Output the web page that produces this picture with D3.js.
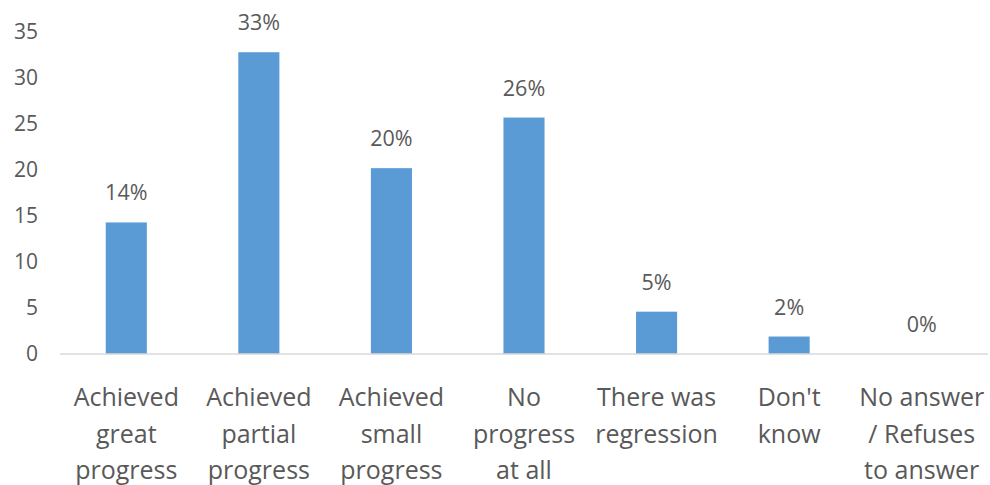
<!DOCTYPE html>
<html>
<head>
<meta charset="utf-8">
<script src="https://cdn.jsdelivr.net/npm/d3@7"></script>
<style>
  body { margin: 0; background: #fff; }
  text { font-family: "Open Sans", sans-serif; fill: #595959; }
</style>
</head>
<body>
<div id="chart"></div>
<script>
// Chart data
const categories = [
  "Achieved\ngreat\nprogress",
  "Achieved\npartial\nprogress",
  "Achieved\nsmall\nprogress",
  "No\nprogress\nat all",
  "There was\nregression",
  "Don't\nknow",
  "No answer\n/ Refuses\nto answer"
];
const values = [14.3, 32.8, 20.2, 25.7, 4.6, 1.9, 0];
const valueLabels = ["14%", "33%", "20%", "26%", "5%", "2%", "0%"];
const yTicks = [0, 5, 10, 15, 20, 25, 30, 35];

const width = 990;
const height = 485;
const margin = { top: 32, right: 2, bottom: 131, left: 60 };

const svg = d3.select("#chart").append("svg")
  .attr("width", width)
  .attr("height", height);

const x = d3.scaleBand()
  .domain(categories)
  .range([margin.left, width - margin.right])
  .paddingInner(0.69)
  .paddingOuter(0.345);

const y = d3.scaleLinear()
  .domain([0, 35])
  .range([height - margin.bottom, margin.top]);

// y axis labels only
const yAxis = d3.axisLeft(y).tickValues(yTicks).tickSize(0).tickPadding(22);
svg.append("g")
  .attr("transform", "translate(" + margin.left + ",0)")
  .call(yAxis)
  .call(g => g.select(".domain").remove())
  .selectAll("text")
  .attr("font-size", 21)
  .attr("font-family", "Open Sans, sans-serif")
  .style("fill", "#595959");

// bars
svg.selectAll(".bar")
  .data(values)
  .enter()
  .append("rect")
  .attr("class", "bar")
  .attr("x", (d, i) => x(categories[i]))
  .attr("y", d => y(d))
  .attr("width", x.bandwidth())
  .attr("height", d => y(0) - y(d))
  .attr("fill", "#5b9bd5");

// baseline
svg.append("line")
  .attr("x1", margin.left)
  .attr("x2", width - margin.right)
  .attr("y1", y(0))
  .attr("y2", y(0))
  .attr("stroke", "#d9d9d9")
  .attr("stroke-width", 1.5);

// value labels
svg.selectAll(".vlabel")
  .data(values)
  .enter()
  .append("text")
  .attr("class", "vlabel")
  .attr("x", (d, i) => x(categories[i]) + x.bandwidth() / 2)
  .attr("y", d => y(d) - 22)
  .attr("text-anchor", "middle")
  .attr("font-size", 21.5)
  .text((d, i) => valueLabels[i]);

// category labels
const catG = svg.selectAll(".cat")
  .data(categories)
  .enter()
  .append("text")
  .attr("class", "cat")
  .attr("text-anchor", "middle")
  .attr("font-size", 25)
  .attr("transform", d => "translate(" + (x(d) + x.bandwidth() / 2) + "," + (y(0) + 52) + ")");

catG.selectAll("tspan")
  .data(d => d.split("\n"))
  .enter()
  .append("tspan")
  .attr("x", 0)
  .attr("y", (d, i) => i * 36.5)
  .text(d => d);
</script>
</body>
</html>
